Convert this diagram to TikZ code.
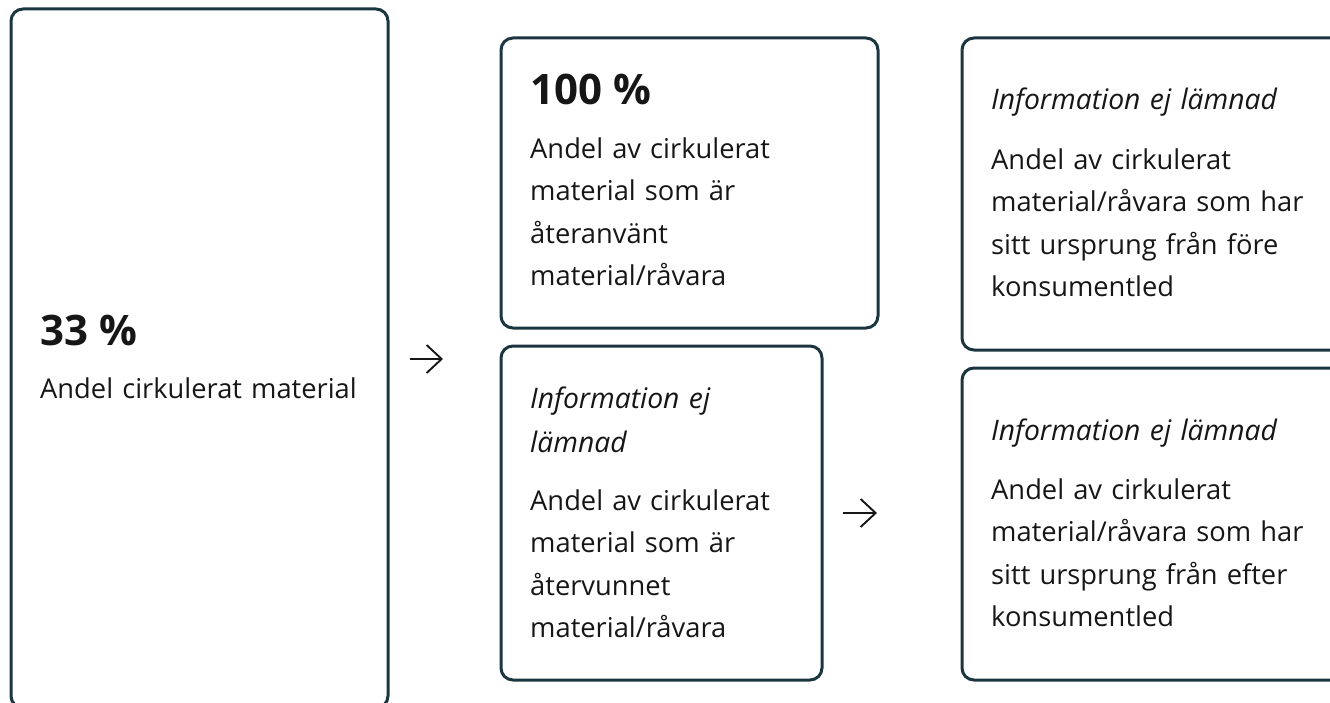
\documentclass[tikz,border=0pt]{standalone}
\usepackage{fontspec}
\setmainfont{Open Sans}
\usetikzlibrary{arrows.meta}
\definecolor{boxline}{RGB}{28,54,64}
\definecolor{ink}{RGB}{22,22,22}
\begin{document}
\begin{tikzpicture}[x=1bp,y=-1bp,
  card/.style={draw=boxline, line width=3bp, rounded corners=12bp, outer sep=0pt, inner sep=0pt, anchor=north west},
  body/.style={anchor=base west, inner sep=0pt, text width=380bp, align=left, text=ink, font=\fontsize{27.3bp}{42.5bp}\selectfont},
  big/.style={anchor=base west, inner sep=0pt, text=ink, font=\fontsize{42bp}{48bp}\selectfont\bfseries},
  note/.style={body, font=\fontsize{28.3bp}{44bp}\selectfont\itshape},
  flow/.style={draw=ink, line width=1.9bp, -{Straight Barb[length=15bp,width=28bp,line width=1.9bp]}}
]
\clip (0,0) rectangle (1330,702);
% boxes
\node[card, minimum width=377bp, minimum height=699bp] (total) at (11,9) {};
\node[card, minimum width=377bp, minimum height=290bp] (reuse) at (501,38) {};
\node[card, minimum width=321bp, minimum height=334bp] (recyc) at (501,346) {};
\node[card, minimum width=390bp, minimum height=312bp] (pre) at (962,38) {};
\node[card, minimum width=390bp, minimum height=312bp] (post) at (962,368) {};
% left box text
\node[big] (t1v) at (40,345) {33 \%};
\node[body] (t1b) at (40,398) {Andel cirkulerat material};
% top middle
\node[big] (t2v) at (530,105) {100 \%};
\node[body] (t2b) at (530,158) {Andel av cirkulerat\\material som är\\återanvänt\\material/råvara};
% bottom middle
\node[note] (t3v) at (530,408) {Information ej\\lämnad};
\node[body] (t3b) at (530,510) {Andel av cirkulerat\\material som är\\återvunnet\\material/råvara};
% top right
\node[note] (t4v) at (991,110) {Information ej lämnad};
\node[body] (t4b) at (991,169) {Andel av cirkulerat\\material/råvara som har\\sitt ursprung från före\\konsumentled};
% bottom right
\node[note] (t5v) at (991,440) {Information ej lämnad};
\node[body] (t5b) at (991,499) {Andel av cirkulerat\\material/råvara som har\\sitt ursprung från efter\\konsumentled};
% arrows
\coordinate (a1s) at (410,359);
\coordinate (a1e) at (443,359);
\coordinate (a2s) at (843,513);
\coordinate (a2e) at (877,513);
\draw[flow] (a1s) -- (a1e);
\draw[flow] (a2s) -- (a2e);
\end{tikzpicture}
\end{document}
